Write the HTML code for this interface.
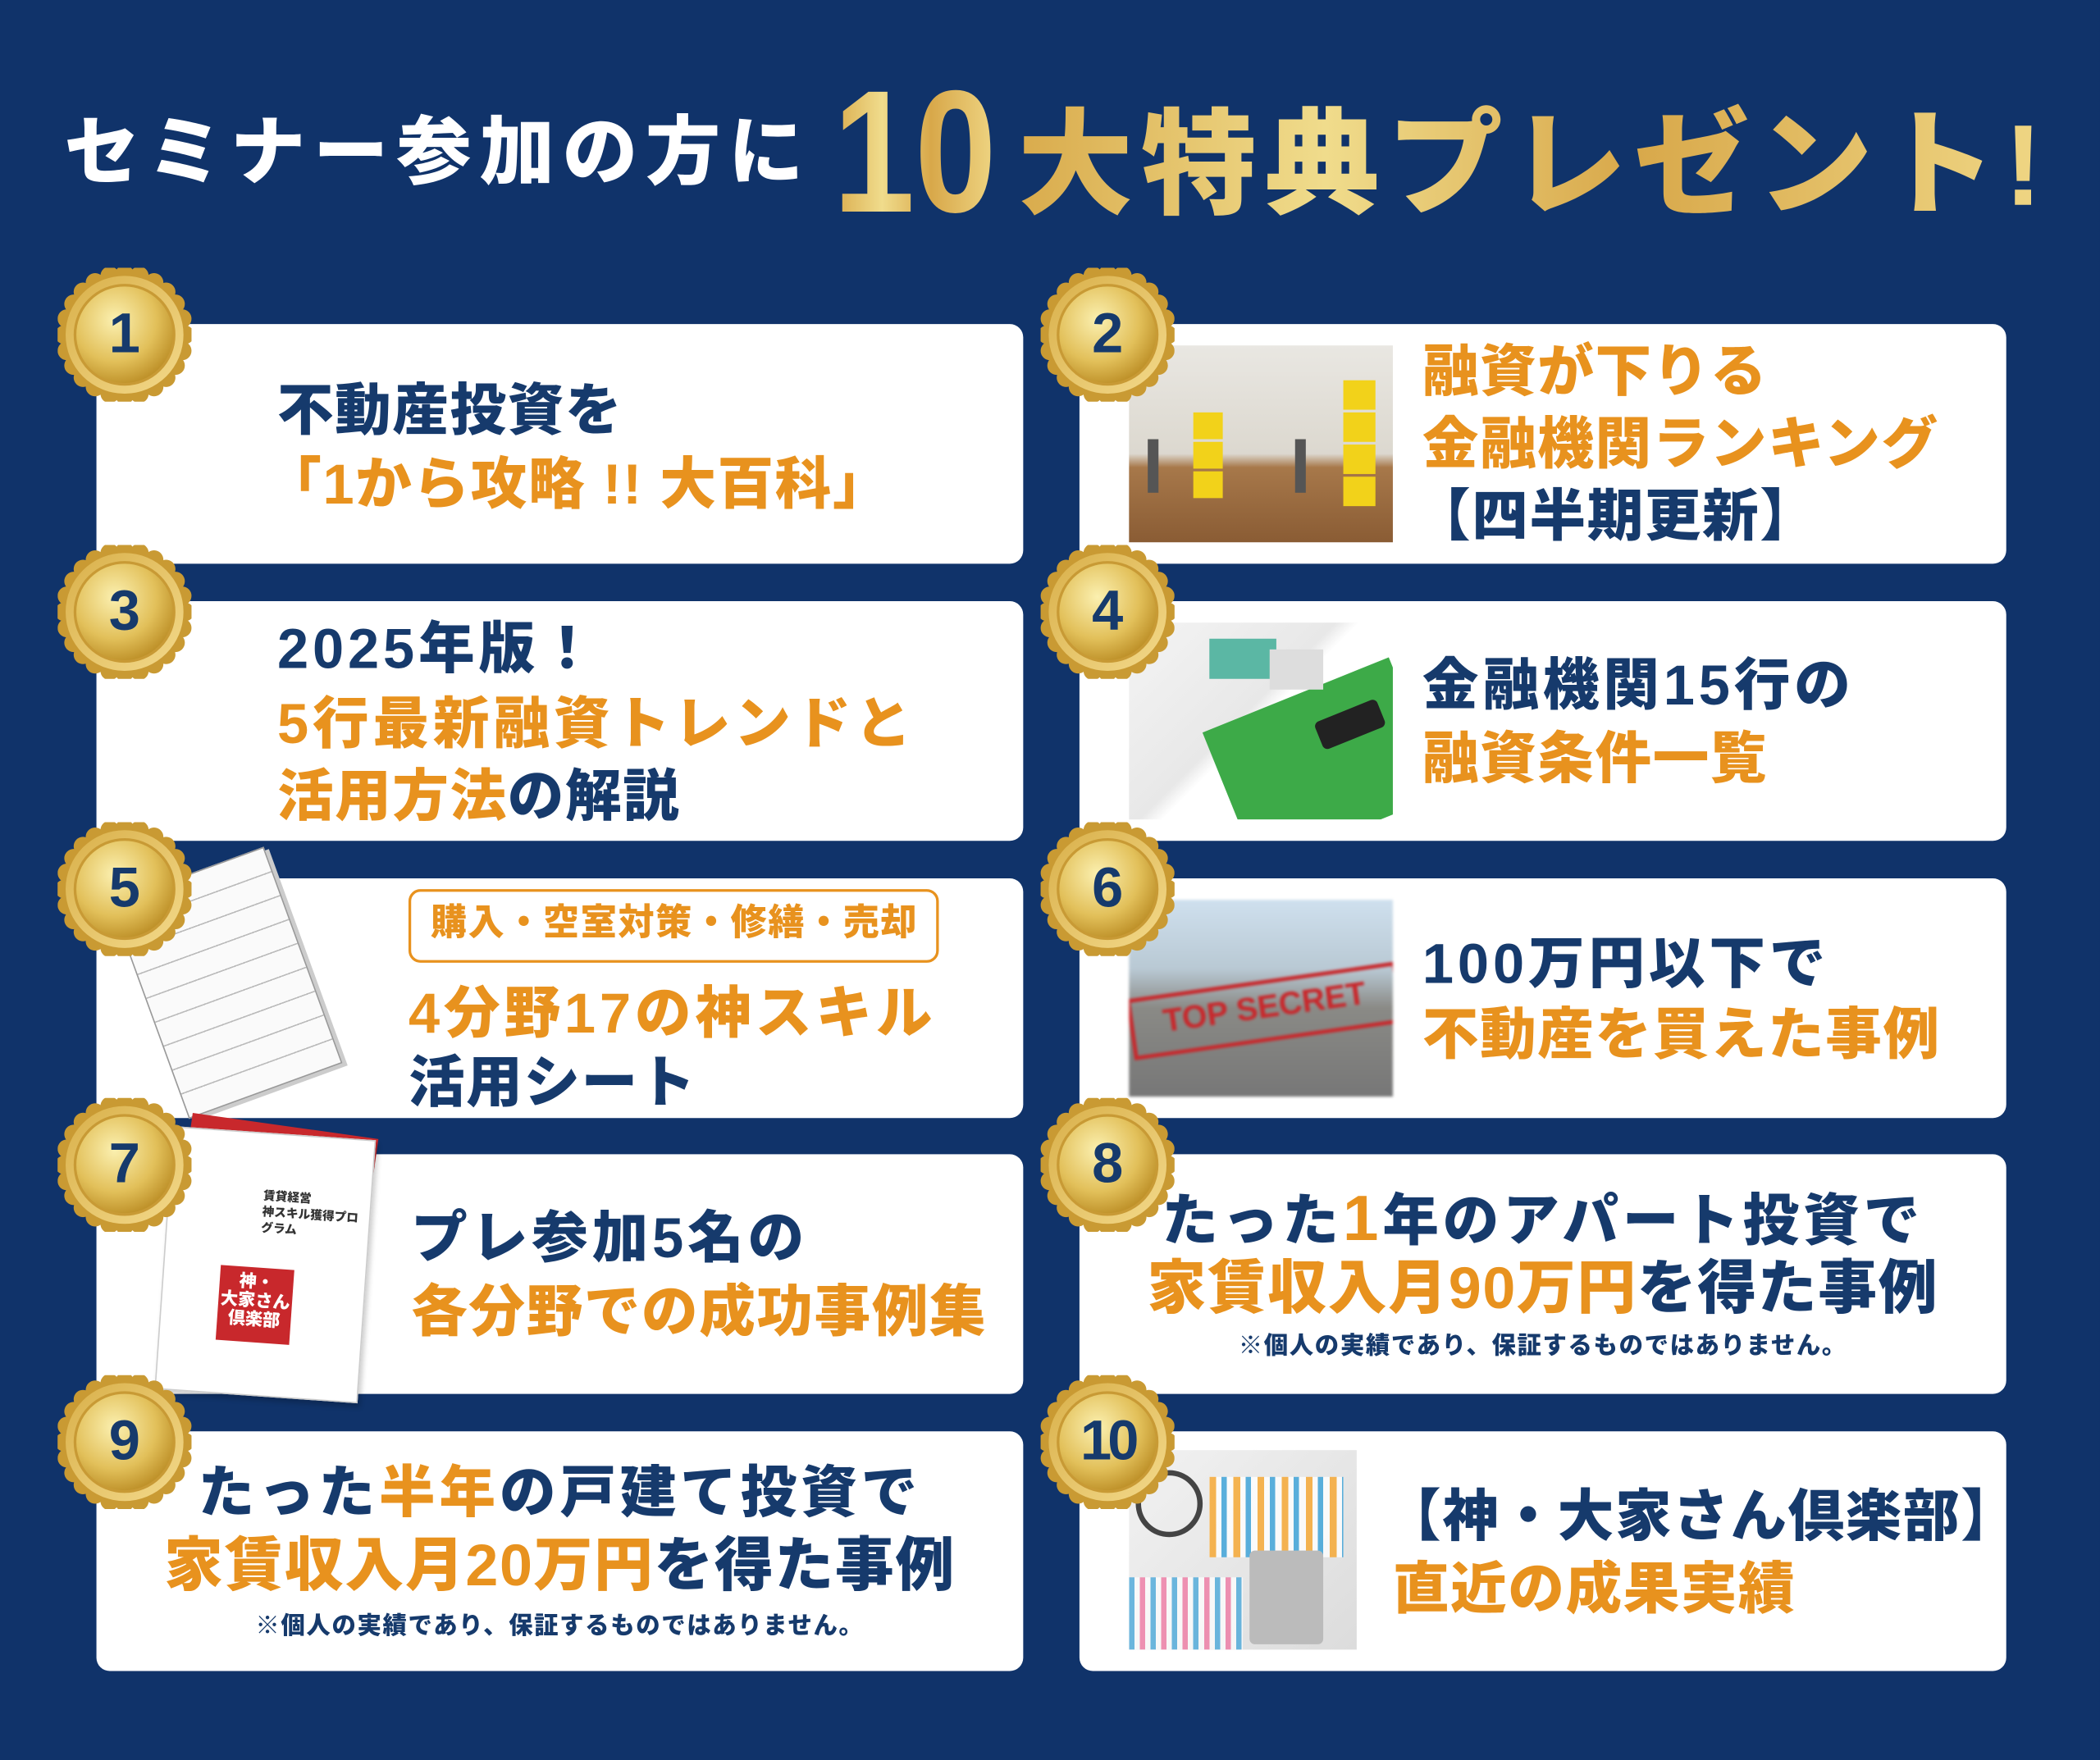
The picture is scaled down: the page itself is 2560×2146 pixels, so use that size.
<!DOCTYPE html>
<html><head><meta charset="utf-8">
<style>
html,body{margin:0;padding:0;}
body{width:2560px;height:2146px;overflow:hidden;background:#10336a;}
#s{position:absolute;left:0;top:0;width:1568px;height:1314px;transform:scale(1.63265);transform-origin:0 0;background:#10336a;font-family:"Liberation Sans","Noto Sans CJK JP",sans-serif;font-weight:900;}
.card{position:absolute;background:#fff;border-radius:10px;}
.t{position:absolute;white-space:nowrap;line-height:1;font-weight:900;color:#163a6c;letter-spacing:1px;}
.w{letter-spacing:3px;}
.o{color:#e8921e;}
.n{color:#163a6c;}
.medal{position:absolute;width:100px;height:100px;}
.img{position:absolute;overflow:hidden;}
</style></head><body><div id="s">
<svg width="0" height="0" style="position:absolute"><defs>
<radialGradient id="g1" cx="40%" cy="35%" r="70%"><stop offset="0" stop-color="#fbf0b0"/><stop offset="0.6" stop-color="#e2c05a"/><stop offset="1" stop-color="#b98a22"/></radialGradient>
<linearGradient id="g2" x1="0" y1="0" x2="1" y2="1"><stop offset="0" stop-color="#d9b04a"/><stop offset="1" stop-color="#f3d98a"/></linearGradient>
<linearGradient id="gt" x1="0" y1="0" x2="1" y2="0"><stop offset="0" stop-color="#d9ab4c"/><stop offset="0.3" stop-color="#f0dc8c"/><stop offset="0.6" stop-color="#d8a84a"/><stop offset="1" stop-color="#efd684"/></linearGradient>
<g id="m">
<g fill="#c99a33">
<circle cx="50" cy="5" r="7"/><circle cx="72" cy="11" r="7"/><circle cx="88" cy="27" r="7"/><circle cx="95" cy="50" r="7"/><circle cx="88" cy="73" r="7"/><circle cx="72" cy="89" r="7"/><circle cx="50" cy="95" r="7"/><circle cx="28" cy="89" r="7"/><circle cx="12" cy="73" r="7"/><circle cx="5" cy="50" r="7"/><circle cx="12" cy="27" r="7"/><circle cx="28" cy="11" r="7"/>
<circle cx="61" cy="6" r="7"/><circle cx="81" cy="18" r="7"/><circle cx="93" cy="38" r="7"/><circle cx="93" cy="62" r="7"/><circle cx="81" cy="82" r="7"/><circle cx="61" cy="94" r="7"/><circle cx="39" cy="94" r="7"/><circle cx="19" cy="82" r="7"/><circle cx="7" cy="62" r="7"/><circle cx="7" cy="38" r="7"/><circle cx="19" cy="18" r="7"/><circle cx="39" cy="6" r="7"/>
</g>
<circle cx="50" cy="50" r="44" fill="url(#g2)"/>
<circle cx="50" cy="50" r="37" fill="url(#g1)" stroke="#c89a35" stroke-width="2"/>
</g></defs></svg>

<!-- title -->
<div class="t" style="left:48px;top:86px;font-size:56px;color:#fff;letter-spacing:6px;">セミナー参加の方に</div>
<svg style="position:absolute;left:600px;top:40px;" width="950" height="140">
<text x="22" y="118" font-family="Liberation Sans, sans-serif" font-weight="900" font-size="130" fill="url(#gt)" textLength="122" lengthAdjust="spacingAndGlyphs">10</text>
<text x="160" y="113" font-family="Liberation Sans, Noto Sans CJK JP, sans-serif" font-weight="900" font-size="86" fill="url(#gt)" textLength="765" lengthAdjust="spacing">大特典プレゼント!</text>
</svg>

<!-- cards -->
<div class="card" style="left:72px;top:242px;width:692px;height:179px;"></div>
<div class="card" style="left:806px;top:242px;width:692px;height:179px;"></div>
<div class="card" style="left:72px;top:449px;width:692px;height:179px;"></div>
<div class="card" style="left:806px;top:449px;width:692px;height:179px;"></div>
<div class="card" style="left:72px;top:656px;width:692px;height:179px;"></div>
<div class="card" style="left:806px;top:656px;width:692px;height:179px;"></div>
<div class="card" style="left:72px;top:862px;width:692px;height:179px;"></div>
<div class="card" style="left:806px;top:862px;width:692px;height:179px;"></div>
<div class="card" style="left:72px;top:1069px;width:692px;height:179px;"></div>
<div class="card" style="left:806px;top:1069px;width:692px;height:179px;"></div>

<!-- images -->
<div class="img" style="left:843px;top:258px;width:197px;height:147px;background:linear-gradient(180deg,#e9e7e2 0%,#dcd8cf 55%,#a7784a 62%,#8a5c34 100%);">
<div style="position:absolute;left:48px;top:50px;width:22px;height:20px;background:#f2d21a"></div>
<div style="position:absolute;left:48px;top:72px;width:22px;height:20px;background:#f2d21a"></div>
<div style="position:absolute;left:48px;top:94px;width:22px;height:20px;background:#f2d21a"></div>
<div style="position:absolute;left:160px;top:26px;width:24px;height:22px;background:#f2d21a"></div>
<div style="position:absolute;left:160px;top:50px;width:24px;height:22px;background:#f2d21a"></div>
<div style="position:absolute;left:160px;top:74px;width:24px;height:22px;background:#f2d21a"></div>
<div style="position:absolute;left:160px;top:98px;width:24px;height:22px;background:#f2d21a"></div>
<div style="position:absolute;left:14px;top:70px;width:8px;height:40px;background:#555"></div>
<div style="position:absolute;left:124px;top:70px;width:8px;height:40px;background:#555"></div>
</div>
<div class="img" style="left:843px;top:465px;width:197px;height:147px;background:linear-gradient(135deg,#f4f4f4 0%,#e8e8e8 45%,#fff 50%);">
<div style="position:absolute;left:70px;top:50px;width:150px;height:110px;background:#3daa48;transform:rotate(-22deg);"></div>
<div style="position:absolute;left:60px;top:12px;width:50px;height:30px;background:#5bb7a4"></div>
<div style="position:absolute;left:105px;top:20px;width:40px;height:30px;background:#ddd"></div>
<div style="position:absolute;left:140px;top:65px;width:50px;height:22px;background:#222;border-radius:4px;transform:rotate(-22deg);"></div>
</div>
<div class="img" style="left:843px;top:672px;width:197px;height:147px;background:linear-gradient(180deg,#cfe0ee 0%,#b9c9d4 35%,#8a8a86 55%,#777 100%);filter:blur(1px);">
<div style="position:absolute;left:0;top:60px;width:197px;height:40px;transform:rotate(-8deg);border:3px solid #c8282c;color:#c8282c;font-size:24px;text-align:center;line-height:36px;">TOP SECRET</div>
</div>
<div class="img" style="left:843px;top:1083px;width:170px;height:149px;background:linear-gradient(135deg,#f2f2f2,#dcdcdc);">
<div style="position:absolute;left:60px;top:20px;width:100px;height:60px;background:repeating-linear-gradient(90deg,#f7a52a 0 5px,#fff 5px 9px,#35a0d8 9px 13px,#fff 13px 18px);opacity:.8"></div>
<div style="position:absolute;left:90px;top:75px;width:55px;height:70px;background:#bbb;border-radius:4px;"></div>
<div style="position:absolute;left:5px;top:15px;width:42px;height:42px;border:4px solid #444;border-radius:50%;"></div>
<div style="position:absolute;left:0;top:95px;width:85px;height:54px;background:repeating-linear-gradient(90deg,#35a0d8 0 4px,#fff 4px 8px,#f06a9a 8px 12px,#fff 12px 16px);opacity:.7"></div>
</div>
<!-- sheet (5) -->
<div style="position:absolute;left:108px;top:648px;width:120px;height:170px;background:#fafafa;border:1px solid #999;transform:rotate(-20deg);box-shadow:3px 3px 0 #ccc;background-image:repeating-linear-gradient(180deg,transparent 0 18px,#bbb 18px 19px);"></div>
<!-- booklet (7) -->
<div style="position:absolute;left:130px;top:840px;width:140px;height:190px;background:#c8282c;transform:rotate(8deg);"></div>
<div style="position:absolute;left:122px;top:846px;width:150px;height:195px;background:#fff;border:1px solid #ccc;transform:rotate(4deg);box-shadow:2px 3px 4px rgba(0,0,0,.2);">
<div style="position:absolute;left:70px;top:40px;font-size:9px;color:#333;line-height:12px;">賃貸経営<br>神スキル獲得プログラム</div>
<div style="position:absolute;left:42px;top:100px;width:55px;height:52px;background:#c8282c;color:#fff;font-size:13px;line-height:14px;text-align:center;padding-top:4px;">神・<br>大家さん<br>倶楽部</div>
</div>

<!-- medals -->
<svg class="medal" style="left:43px;top:200px"><use href="#m"/></svg>
<svg class="medal" style="left:777px;top:200px"><use href="#m"/></svg>
<svg class="medal" style="left:43px;top:407px"><use href="#m"/></svg>
<svg class="medal" style="left:777px;top:407px"><use href="#m"/></svg>
<svg class="medal" style="left:43px;top:614px"><use href="#m"/></svg>
<svg class="medal" style="left:777px;top:614px"><use href="#m"/></svg>
<svg class="medal" style="left:43px;top:820px"><use href="#m"/></svg>
<svg class="medal" style="left:777px;top:820px"><use href="#m"/></svg>
<svg class="medal" style="left:43px;top:1027px"><use href="#m"/></svg>
<svg class="medal" style="left:777px;top:1027px"><use href="#m"/></svg>
<div class="t" style="left:73px;top:228px;width:40px;text-align:center;font-size:42px;letter-spacing:0">1</div>
<div class="t" style="left:807px;top:228px;width:40px;text-align:center;font-size:42px;letter-spacing:0">2</div>
<div class="t" style="left:73px;top:435px;width:40px;text-align:center;font-size:42px;letter-spacing:0">3</div>
<div class="t" style="left:807px;top:435px;width:40px;text-align:center;font-size:42px;letter-spacing:0">4</div>
<div class="t" style="left:73px;top:642px;width:40px;text-align:center;font-size:42px;letter-spacing:0">5</div>
<div class="t" style="left:807px;top:642px;width:40px;text-align:center;font-size:42px;letter-spacing:0">6</div>
<div class="t" style="left:73px;top:848px;width:40px;text-align:center;font-size:42px;letter-spacing:0">7</div>
<div class="t" style="left:807px;top:848px;width:40px;text-align:center;font-size:42px;letter-spacing:0">8</div>
<div class="t" style="left:73px;top:1055px;width:40px;text-align:center;font-size:42px;letter-spacing:0">9</div>
<div class="t" style="left:797px;top:1055px;width:60px;text-align:center;font-size:42px;letter-spacing:-3px;">10</div>

<!-- texts -->
<div class="t" style="left:207px;top:286px;font-size:42px;">不動産投資を</div>
<div class="t o" style="left:198px;top:341px;font-size:42px;">「1から攻略 !! 大百科」</div>

<div class="t o" style="left:1062px;top:257px;font-size:42px;">融資が下りる</div>
<div class="t o" style="left:1062px;top:311px;font-size:42px;">金融機関ランキング</div>
<div class="t" style="left:1056px;top:365px;font-size:42px;">【四半期更新】</div>

<div class="t w" style="left:207px;top:464px;font-size:42px;">2025年版！</div>
<div class="t o w" style="left:207px;top:520px;font-size:42px;">5行最新融資トレンドと</div>
<div class="t" style="left:207px;top:574px;font-size:42px;"><span class="o">活用方法</span>の解説</div>

<div class="t w" style="left:1062px;top:491px;font-size:42px;">金融機関15行の</div>
<div class="t o" style="left:1062px;top:546px;font-size:42px;">融資条件一覧</div>

<div style="position:absolute;left:305px;top:664px;width:392px;height:51px;border:2.5px solid #e8921e;border-radius:9px;"></div>
<div class="t o" style="left:305px;top:676px;width:397px;text-align:center;font-size:27px;">購入・空室対策・修繕・売却</div>
<div class="t o w" style="left:305px;top:736px;font-size:42px;">4分野17の神スキル</div>
<div class="t" style="left:305px;top:788px;font-size:42px;">活用シート</div>

<div class="t w" style="left:1062px;top:699px;font-size:42px;">100万円以下で</div>
<div class="t o" style="left:1062px;top:752px;font-size:42px;">不動産を買えた事例</div>

<div class="t w" style="left:307px;top:904px;font-size:42px;">プレ参加5名の</div>
<div class="t o" style="left:307px;top:959px;font-size:42px;">各分野での成功事例集</div>

<div class="t w" style="left:806px;top:887px;width:692px;text-align:center;font-size:42px;">たった<span class="o" style="font-size:48px">1</span>年のアパート投資で</div>
<div class="t" style="left:806px;top:941px;width:692px;text-align:center;font-size:44px;"><span class="o">家賃収入月90万円</span>を得た事例</div>
<div class="t" style="left:806px;top:996px;width:692px;text-align:center;font-size:18px;">※個人の実績であり、保証するものではありません。</div>

<div class="t w" style="left:72px;top:1094px;width:692px;text-align:center;font-size:42px;">たった<span class="o">半年</span>の戸建て投資で</div>
<div class="t" style="left:72px;top:1148px;width:692px;text-align:center;font-size:44px;"><span class="o">家賃収入月20万円</span>を得た事例</div>
<div class="t" style="left:72px;top:1205px;width:692px;text-align:center;font-size:18px;">※個人の実績であり、保証するものではありません。</div>

<div class="t" style="left:1034px;top:1112px;font-size:42px;">【神・大家さん倶楽部】</div>
<div class="t o" style="left:1040px;top:1166px;font-size:42px;">直近の成果実績</div>
</div></body></html>
